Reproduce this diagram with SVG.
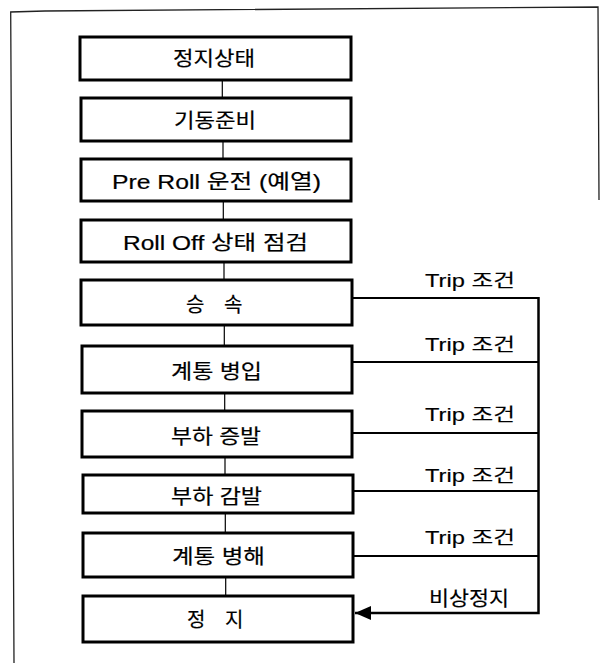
<svg xmlns="http://www.w3.org/2000/svg" width="601" height="663" viewBox="0 0 601 663">
<style>
.box{fill:#fff;stroke:#000;stroke-width:3}
.lbl{font-family:"Liberation Sans","Noto Sans CJK KR",sans-serif;font-size:20px;fill:#000;stroke:#000;stroke-width:0.2}
.side{font-family:"Liberation Sans","Noto Sans CJK KR",sans-serif;font-size:18px;fill:#000;stroke:#000;stroke-width:0.15}
.frame{fill:none;stroke:#222;stroke-width:1.3}
.link{stroke:#000;stroke-width:1.2;fill:none}
.trip{stroke:#000;stroke-width:2;fill:none}
.bus{stroke:#000;stroke-width:2.5;fill:none}
</style>
<defs>
<marker id="arr" viewBox="0 0 16 14" refX="16" refY="7" markerWidth="16" markerHeight="14" markerUnits="userSpaceOnUse" orient="auto">
<path d="M0,0 L16,7 L0,14 Z" fill="#000"/>
</marker>
</defs>
<rect width="601" height="663" fill="#fff"/>
<g id="frame">
<path class="frame" d="M14,663 L10.7,12 L45,11 L598,7 L599,200"/>
</g>
<g id="connectors">
<line class="link" x1="222.3" y1="80" x2="222.3" y2="98"/>
<line class="link" x1="223" y1="141" x2="223" y2="159"/>
<line class="link" x1="223.3" y1="201" x2="223.3" y2="220"/>
<line class="link" x1="224" y1="262" x2="224" y2="280"/>
<line class="link" x1="224.3" y1="325" x2="224.3" y2="346"/>
<line class="link" x1="224.7" y1="393" x2="224.7" y2="411"/>
<line class="link" x1="225" y1="457" x2="225" y2="475"/>
<line class="link" x1="225.3" y1="513" x2="225.3" y2="533"/>
<line class="link" x1="225.7" y1="577" x2="225.7" y2="596"/>
<line class="trip" x1="352" y1="298" x2="538.5" y2="298"/>
<line class="trip" x1="352" y1="362" x2="538.5" y2="362"/>
<line class="trip" x1="352" y1="433" x2="538.5" y2="433"/>
<line class="trip" x1="353" y1="491" x2="538.5" y2="491"/>
<line class="trip" x1="353" y1="556" x2="538.5" y2="556"/>
<path class="bus" d="M538.5,297 L538.5,613 L355,613" marker-end="url(#arr)"/>
<text class="side" x="425" y="287" textLength="90" lengthAdjust="spacingAndGlyphs">Trip 조건</text>
<text class="side" x="425" y="351" textLength="90" lengthAdjust="spacingAndGlyphs">Trip 조건</text>
<text class="side" x="425" y="421" textLength="90" lengthAdjust="spacingAndGlyphs">Trip 조건</text>
<text class="side" x="425" y="482" textLength="90" lengthAdjust="spacingAndGlyphs">Trip 조건</text>
<text class="side" x="425" y="544" textLength="90" lengthAdjust="spacingAndGlyphs">Trip 조건</text>
<text class="lbl" x="429" y="606" textLength="80" lengthAdjust="spacingAndGlyphs">비상정지</text>
</g>
<g id="n1"><rect class="box" x="80" y="37" width="271" height="43"/><text class="lbl" x="173" y="66" textLength="82" lengthAdjust="spacingAndGlyphs">정지상태</text></g>
<g id="n2"><rect class="box" x="81" y="98" width="270" height="43"/><text class="lbl" x="174" y="127.5" textLength="82" lengthAdjust="spacingAndGlyphs">기동준비</text></g>
<g id="n3"><rect class="box" x="81" y="159" width="270" height="42"/><text class="lbl" x="112" y="189" textLength="209" lengthAdjust="spacingAndGlyphs">Pre Roll 운전 (예열)</text></g>
<g id="n4"><rect class="box" x="81" y="220" width="270" height="42"/><text class="lbl" x="123" y="249.5" textLength="185" lengthAdjust="spacingAndGlyphs">Roll Off 상태 점검</text></g>
<g id="n5"><rect class="box" x="81" y="280" width="271" height="45"/><text class="lbl" x="186" y="312" word-spacing="14">승 속</text></g>
<g id="n6"><rect class="box" x="82" y="346" width="270" height="47"/><text class="lbl" x="171" y="379" textLength="91" lengthAdjust="spacingAndGlyphs">계통 병입</text></g>
<g id="n7"><rect class="box" x="82" y="411" width="270" height="46"/><text class="lbl" x="171" y="444" textLength="90" lengthAdjust="spacingAndGlyphs">부하 증발</text></g>
<g id="n8"><rect class="box" x="83" y="475" width="270" height="38"/><text class="lbl" x="171" y="504" textLength="91" lengthAdjust="spacingAndGlyphs">부하 감발</text></g>
<g id="n9"><rect class="box" x="83" y="533" width="270" height="44"/><text class="lbl" x="172" y="564" textLength="93" lengthAdjust="spacingAndGlyphs">계통 병해</text></g>
<g id="n10"><rect class="box" x="83" y="596" width="270" height="46"/><text class="lbl" x="187" y="627" word-spacing="14">정 지</text></g>
</svg>
